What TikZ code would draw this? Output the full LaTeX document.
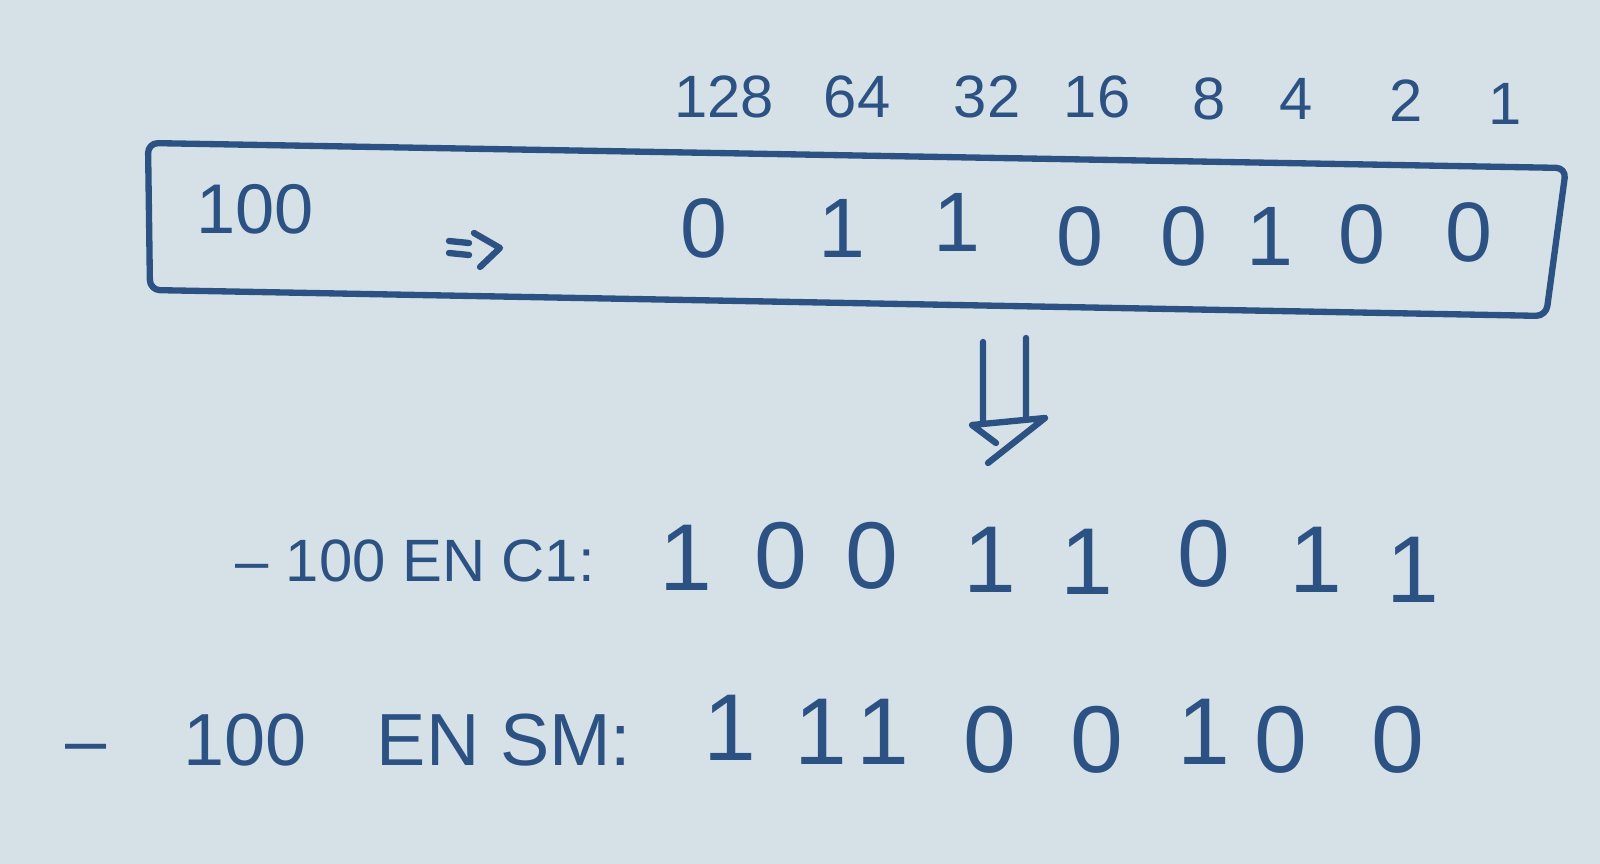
\documentclass[tikz,border=0pt]{standalone}
\usepackage{fontspec}
\setmainfont{Liberation Sans}
\usetikzlibrary{calc}
\definecolor{board}{RGB}{214,225,231}
\definecolor{ink}{RGB}{44,82,132}
\tikzstyle{main}     = [inner sep=0pt, outer sep=2pt, text=ink]
\tikzstyle{weight}   = [main, font=\fontsize{17}{17}\selectfont]
\tikzstyle{bit}      = [main, font=\fontsize{24}{24}\selectfont]
\tikzstyle{bitbig}   = [main, font=\fontsize{27}{27}\selectfont]
\tikzstyle{rowlabel} = [main, anchor=west, font=\fontsize{17}{17}\selectfont]
\tikzstyle{pen}      = [draw=ink, line width=1.8pt, line join=round, line cap=round]

\begin{document}
\begin{tikzpicture}[x=0.01cm, y=-0.01cm]
     \fill[board] (0,0) rectangle (1600,864);
     \useasboundingbox (0,0) rectangle (1600,864);
     % poids des bits
     \draw
       node[weight] (w128) at (724,97)  {128}
       node[weight] (w64)  at (857,97)  {64}
       node[weight] (w32)  at (987,97)  {32}
       node[weight] (w16)  at (1097,97) {16}
       node[weight] (w8)   at (1209,99) {8}
       node[weight] (w4)   at (1296,99) {4}
       node[weight] (w2)   at (1406,101) {2}
       node[weight] (w1)   at (1505,104) {1};
     % cadre
     \draw[pen, rounded corners=1mm]
       (148,143) -- (1566,168) -- (1546,316) -- (150,290) -- cycle;
     \draw
       node[main, font=\fontsize{20}{20}\selectfont] (dec) at (255,209) {100}
       node[bit] (b7) at (704,228)  {0}
       node[bit] (b6) at (842,228)  {1}
       node[bit] (b5) at (957,222)  {1}
       node[bit] (b4) at (1080,236) {0}
       node[bit] (b3) at (1184,236) {0}
       node[bit] (b2) at (1270,236) {1}
       node[bit] (b1) at (1362,234) {0}
       node[bit] (b0) at (1469,232) {0};
     % fleche => 
     \coordinate (imp) at (474,250);
     \draw[pen] ($(imp)+(-25,-9)$) -- ++(20,2)
                ($(imp)+(-25,3)$) -- ++(20,2)
                ($(imp)+(0,-17)$) -- ++(26,15) -- ++(-20,19);
     % fleche vers le bas
     \coordinate (down) at (1008,420);
     \draw[pen] ($(down)+(-25,-78)$) -- ++(0,80)
                ($(down)+(18,-82)$) -- ++(0,82)
                ($(down)+(-36,5)$) -- ++(73,-7) -- ++(-57,45)
                ($(down)+(-36,5)$) -- ++(24,18);
     % -100 en C1
     \draw
       node[rowlabel] (c1) at (228,561) {–\hspace{5pt}100 EN C1:}
       node[bitbig] (c7) at (686,558)  {1}
       node[bitbig] (c6) at (781,556)  {0}
       node[bitbig] (c5) at (872,556)  {0}
       node[bitbig] (c4) at (990,560)  {1}
       node[bitbig] (c3) at (1087,562) {1}
       node[bitbig] (c2) at (1204,554) {0}
       node[bitbig] (c1b) at (1316,560) {1}
       node[bitbig] (c0) at (1413,570) {1};
     % -100 en SM
     \draw
       node[rowlabel, font=\fontsize{21}{21}\selectfont] (sm) at (58,740)
         {–\hspace{22pt}100\hspace{20pt}EN SM:}
       node[bitbig] (s7) at (730,728)  {1}
       node[bitbig] (s6) at (821,732)  {1}
       node[bitbig] (s5) at (883,732)  {1}
       node[bitbig] (s4) at (990,740)  {0}
       node[bitbig] (s3) at (1097,740) {0}
       node[bitbig] (s2) at (1204,732) {1}
       node[bitbig] (s1) at (1281,740) {0}
       node[bitbig] (s0) at (1398,740) {0};
\end{tikzpicture}
\end{document}
